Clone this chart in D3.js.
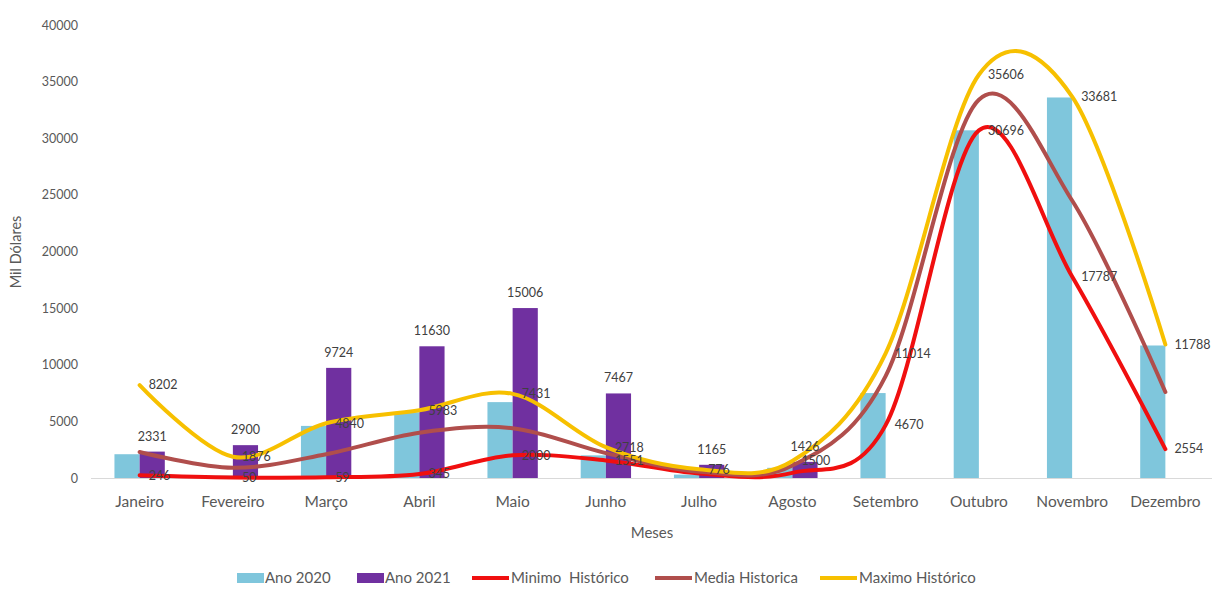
<!DOCTYPE html>
<html>
<head>
<meta charset="utf-8">
<script src="https://cdn.jsdelivr.net/npm/d3@7"></script>
<style>
  html, body { margin: 0; padding: 0; background: #fff; }
  svg { display: block; font-family: Lato, "Open Sans", sans-serif; }
</style>
</head>
<body>
<svg id="chart" width="1216" height="592"></svg>
<script>
const months = ["Janeiro","Fevereiro","Março","Abril","Maio","Junho","Julho","Agosto","Setembro","Outubro","Novembro","Dezembro"];
const ano2020 = [2100, 200, 4600, 5800, 6700, 2000, 300, 900, 7500, 30700, 33600, 11700];
const ano2021 = [2331, 2900, 9724, 11630, 15006, 7467, 1165, 1426, null, null, null, null];
const minimo  = [246, 50, 59, 345, 2000, 1551, 400, 450, 4670, 30696, 17787, 2554];
const media   = [2300, 900, 2100, 4000, 4400, 2200, 550, 1100, 9000, 33400, 24500, 7600];
const maximo  = [8202, 1876, 4840, 5983, 7431, 2718, 776, 1500, 11014, 35606, 33681, 11788];
const yTicks  = [0, 5000, 10000, 15000, 20000, 25000, 30000, 35000, 40000];
const legendLabels = ["Ano 2020", "Ano 2021", "Minimo  Histórico", "Media Historica", "Maximo Histórico"];
const xTitle = "Meses";
const yTitle = "Mil Dólares";

const colors = { a2020: "#7FC6DC", a2021: "#7030A0", min: "#F00F0F", med: "#B04E4C", max: "#F7C000" };

const svg = d3.select("#chart");
const mLeft = 93, mRight = 1212, mTop = 25, mBottom = 478;

const x0 = d3.scaleBand().domain(months).range([mLeft, mRight]).paddingInner(0.46).paddingOuter(0.23);
const x1 = d3.scaleBand().domain(["a2020", "a2021"]).range([0, x0.bandwidth()]);
const y = d3.scaleLinear().domain([0, 40000]).range([mBottom, mTop]);
const cx = m => x0(m) + x0.bandwidth() / 2;

// y axis (labels only)
const yAxis = d3.axisLeft(y).tickValues(yTicks).tickSize(0).tickPadding(0).tickFormat(d3.format("d"));
const gy = svg.append("g").attr("transform", `translate(78,0)`).call(yAxis);
gy.select(".domain").remove();
gy.selectAll("text").attr("fill", "#595959").style("font-size", "12.5px").style("font-family", "Lato, sans-serif");

// x axis
const xAxis = d3.axisBottom(x0).tickSize(0).tickPadding(0);
const gx = svg.append("g").attr("transform", `translate(0,${mBottom})`).call(xAxis);
gx.select(".domain").attr("stroke", "#d9d9d9").attr("stroke-width", 1).attr("d", `M${mLeft - 2},0.5H${mRight}`);
gx.selectAll("text").attr("fill", "#595959").style("font-size", "15.5px").style("font-family", "Lato, sans-serif").attr("dy", "1.9em");

// bars
const bars = svg.append("g");
months.forEach((m, i) => {
  [["a2020", ano2020[i]], ["a2021", ano2021[i]]].forEach(([k, v]) => {
    if (v == null) return;
    bars.append("rect")
      .attr("x", x0(m) + x1(k))
      .attr("y", y(v))
      .attr("width", x1.bandwidth())
      .attr("height", y(0) - y(v))
      .attr("fill", colors[k]);
  });
});

// lines
const line = d3.line().x((d, i) => cx(months[i])).y(d => y(d)).curve(d3.curveCatmullRom.alpha(0));
[["min", minimo], ["med", media], ["max", maximo]].forEach(([k, arr]) => {
  svg.append("path").datum(arr).attr("d", line)
    .attr("fill", "none").attr("stroke", colors[k]).attr("stroke-width", 4)
    .attr("stroke-linecap", "round").attr("stroke-linejoin", "round");
});

// data labels
const lab = svg.append("g").style("font-size", "12.5px").attr("fill", "#404040");
months.forEach((m, i) => {
  if (ano2021[i] != null) {
    lab.append("text").attr("x", x0(m) + x1("a2021") + x1.bandwidth() / 2).attr("y", y(ano2021[i]) - 11)
      .attr("text-anchor", "middle").text(ano2021[i]);
  }
  lab.append("text").attr("x", cx(m) + 9).attr("y", y(maximo[i])).attr("dy", "0.35em").text(maximo[i]);
  // minimo label hidden where it would sit under the maximo label
  if (Math.abs(y(maximo[i]) - y(minimo[i])) >= 13) {
    lab.append("text").attr("x", cx(m) + 9).attr("y", y(minimo[i])).attr("dy", "0.35em").text(minimo[i]);
  }
});

// axis titles
svg.append("text").attr("x", 652).attr("y", 538).attr("text-anchor", "middle")
  .attr("fill", "#595959").style("font-size", "15px").text(xTitle);
svg.append("text").attr("transform", "translate(21,252) rotate(-90)").attr("text-anchor", "middle")
  .attr("fill", "#595959").style("font-size", "14.5px").text(yTitle);

// legend
const legendX = [237, 357, 472, 655, 820];
const legendKeys = ["a2020", "a2021", "min", "med", "max"];
const lg = svg.append("g").attr("transform", "translate(0,578)");
legendKeys.forEach((k, i) => {
  const gx0 = legendX[i];
  if (i < 2) {
    lg.append("rect").attr("x", gx0).attr("y", -5).attr("width", 27).attr("height", 10).attr("fill", colors[k]);
  } else {
    lg.append("line").attr("x1", gx0).attr("x2", gx0 + 37).attr("y1", 0).attr("y2", 0)
      .attr("stroke", colors[k]).attr("stroke-width", 4);
  }
  lg.append("text").attr("x", gx0 + (i < 2 ? 28 : 39)).attr("y", 0).attr("dy", "0.35em")
    .style("white-space", "pre")
    .attr("fill", "#595959").style("font-size", "15px").text(legendLabels[i]);
});
</script>
</body>
</html>
